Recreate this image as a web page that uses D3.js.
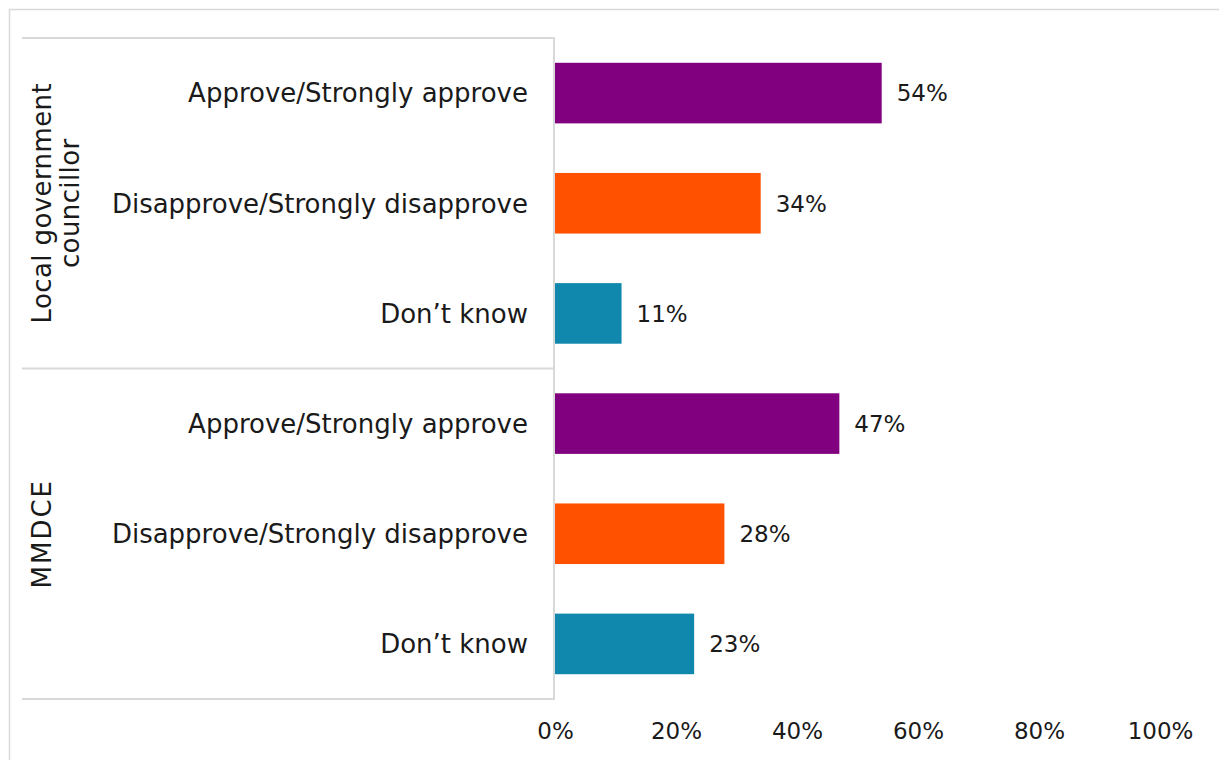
<!DOCTYPE html>
<html>
<head>
<meta charset="utf-8">
<script src="https://cdn.jsdelivr.net/npm/d3@7"></script>
<style>
  html, body { margin: 0; padding: 0; background: #ffffff; }
  svg text { font-family: "DejaVu Sans", sans-serif; fill: #1a1a1a; }
</style>
</head>
<body>
<svg id="chart" width="1219" height="760"></svg>
<script>
// Approval ratings, grouped by office
const groups = ["Local government councillor", "MMDCE"];
const groupLines = [["Local government", "councillor"], ["MMDCE"]];
const responses = ["Approve/Strongly approve", "Disapprove/Strongly disapprove", "Don\u2019t know"];
const councillorValues = [54, 34, 11];
const mmdceValues = [47, 28, 23];
const tickValues = [0, 20, 40, 60, 80, 100];
const responseColors = ["#800080", "#FF5100", "#1087AD"];

const rows = [];
[councillorValues, mmdceValues].forEach((vals, gi) => {
  vals.forEach((v, ri) => rows.push({ group: groups[gi], response: responses[ri], ri, value: v, key: gi + "|" + ri }));
});

const svg = d3.select("#chart");
const W = 1219, H = 760;
const plot = { left: 555, right: 1160, top: 38, bottom: 699 };
const labelLeft = 22;
const lineColor = "#d9d9d9";

// Outer chart border
svg.append("rect")
  .attr("x", 9.5).attr("y", 9.5)
  .attr("width", W + 20).attr("height", H + 20)
  .attr("fill", "none").attr("stroke", lineColor).attr("stroke-width", 1.5);

const x = d3.scaleLinear().domain([0, 100]).range([plot.left, plot.right]);
const y = d3.scaleBand().domain(rows.map(d => d.key)).range([plot.top, plot.bottom]).paddingInner(0.45).paddingOuter(0.225);
const groupScale = d3.scaleBand().domain(groups).range([plot.top, plot.bottom]);

// Bars
svg.append("g").selectAll("rect").data(rows).join("rect")
  .attr("x", x(0))
  .attr("y", d => y(d.key))
  .attr("width", d => x(d.value) - x(0))
  .attr("height", y.bandwidth())
  .attr("fill", d => responseColors[d.ri]);

// Value labels
svg.append("g").selectAll("text").data(rows).join("text")
  .attr("x", d => x(d.value) + 15)
  .attr("y", d => y(d.key) + y.bandwidth() / 2)
  .attr("dy", "0.36em")
  .attr("font-size", 23)
  .text(d => d.value + "%");

// Response labels
svg.append("g").selectAll("text").data(rows).join("text")
  .attr("x", plot.left - 27)
  .attr("y", d => y(d.key) + y.bandwidth() / 2)
  .attr("dy", "0.36em")
  .attr("text-anchor", "end")
  .attr("font-size", 26)
  .text(d => d.response);

// Group separators and vertical axis line
const sep = svg.append("g").attr("stroke", lineColor).attr("stroke-width", 2);
[plot.top, groupScale(groups[1]), plot.bottom].forEach(yy => {
  sep.append("line").attr("x1", labelLeft).attr("x2", plot.left).attr("y1", yy).attr("y2", yy);
});
sep.append("line").attr("x1", plot.left - 1).attr("x2", plot.left - 1).attr("y1", plot.top).attr("y2", plot.bottom);

// Rotated group labels
groups.forEach((g, gi) => {
  const cy = groupScale(g) + groupScale.bandwidth() / 2;
  const lines = groupLines[gi];
  const t = svg.append("text")
    .attr("transform", `translate(${lines.length > 1 ? 56 : 42},${cy}) rotate(-90)`)
    .attr("text-anchor", "middle")
    .attr("font-size", 26)
    .attr("letter-spacing", lines.length > 1 ? 0.4 : 2);
  lines.forEach((ln, li) => {
    t.append("tspan").attr("x", 0)
      .attr("dy", li === 0 ? (lines.length > 1 ? "-0.18em" : "0.36em") : "1.07em")
      .text(ln);
  });
});

// X axis tick labels
const axis = d3.axisBottom(x).tickValues(tickValues).tickSize(0).tickPadding(0).tickFormat(d => d + "%");
const ax = svg.append("g").attr("transform", `translate(0, 723)`).call(axis);
ax.select(".domain").remove();
ax.selectAll("text").attr("font-size", 23).attr("fill", "#1a1a1a")
  .style("font-family", '"DejaVu Sans", sans-serif');
</script>
</body>
</html>
